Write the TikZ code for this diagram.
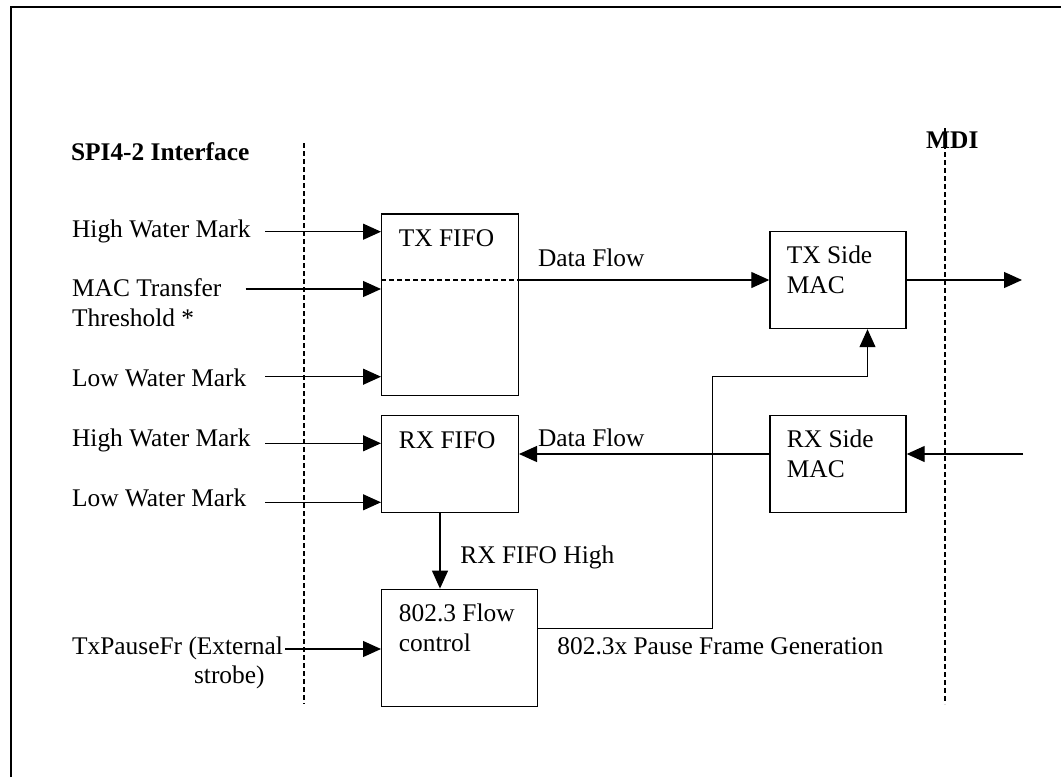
\documentclass[tikz,border=0pt]{standalone}
\usepackage{fontspec}
\setmainfont{Liberation Serif}
\usetikzlibrary{arrows.meta}

\begin{document}
\begin{tikzpicture}[
        x=0.5pt, y=-0.5pt,
        every node/.style={font=\fontsize{12.7}{15}\selectfont},
        box/.style={draw, line width=0.7pt, inner sep=0pt},
        txt/.style={anchor=base west, inner sep=0pt, align=left},
        hdr/.style={txt, font=\bfseries\fontsize{12.7}{15}\selectfont},
        flow/.style={line width=0.6pt, -{Triangle[length=9pt, width=8pt]}},
        divider/.style={line width=0.6pt, dash pattern=on 2.6pt off 1.4pt}
    ]

    \useasboundingbox (0,0) rectangle (1061,777);
    \draw[line width=1.4pt] (11,777) -- (11,7) -- (1061,7);

    % interface borders
    \draw[divider] (304,143) -- (304,704);
    \draw[divider] (945,128) -- (945,704);
    \node[hdr] (spi) at (70.6,160.7) {SPI4-2 Interface};
    \node[hdr] (mdi) at (925.8,148.3) {MDI};

    % blocks
    \node[box, minimum width=68.3pt, minimum height=90.8pt] (txfifo) at (450,304.9) {};
    \node[box, minimum width=68.3pt, minimum height=48.5pt] (rxfifo) at (450,464) {};
    \node[box, minimum width=78pt, minimum height=58.6pt] (fc) at (459.7,647.9) {};
    \node[box, minimum width=68pt, minimum height=48.5pt] (txmac) at (838,280) {};
    \node[box, minimum width=68pt, minimum height=48.5pt] (rxmac) at (838,464) {};

    \node[txt] (txfifo-t) at (398.5,246.7) {TX FIFO};
    \node[txt] (rxfifo-t) at (398.5,448.3) {RX FIFO};
    \node[txt] (fc-t) at (398.5,651.7) {802.3 Flow\\control};
    \node[txt] (txmac-t) at (786.5,293.3) {TX Side\\MAC};
    \node[txt] (rxmac-t) at (786.5,477.3) {RX Side\\MAC};

    % left side inputs
    \node[txt] (hw-tx) at (71.7,237.3) {High Water Mark};
    \node[txt] (thr) at (71.7,326.7) {MAC Transfer\\Threshold *};
    \node[txt] (lw-tx) at (71.7,386) {Low Water Mark};
    \node[txt] (hw-rx) at (71.7,446) {High Water Mark};
    \node[txt] (lw-rx) at (71.7,506) {Low Water Mark};
    \node[txt] (pause-in) at (71.7,654) {TxPauseFr (External};
    \node[txt, anchor=base east] (strobe) at (265,683.3) {strobe)};

    \coordinate (hw1) at (265,231.7);
    \coordinate (mt) at (245.6,289);
    \coordinate (lw1) at (265,376.7);
    \coordinate (hw2) at (265,443.3);
    \coordinate (lw2) at (265,502.3);
    \coordinate (tp) at (285,649);

    \foreach \c in {hw1,mt,lw1}
        \draw[flow] (\c) -- (\c -| txfifo.west);
    \foreach \c in {hw2,lw2}
        \draw[flow] (\c) -- (\c -| rxfifo.west);
    \draw[flow] (tp) -- (tp -| fc.west);

    % data paths
    \draw[divider] (txfifo.west |- txmac.west) -- (txfifo.east |- txmac.west);
    \draw[flow] (txfifo.east |- txmac.west) -- (txmac.west);
    \node[txt] (df-tx) at (537.6,266.7) {Data Flow};
    \coordinate (txout) at (1022,280);
    \draw[flow] (txmac.east) -- (txout);

    \coordinate (rxin) at (1023,454);
    \draw[flow] (rxin) -- (rxin -| rxmac.east);
    \draw[flow] (rxin -| rxmac.west) -- (rxin -| rxfifo.east);
    \node[txt] (df-rx) at (537.6,446) {Data Flow};

    \coordinate (dn) at (440,0);
    \draw[flow] (dn |- rxfifo.south) -- (dn |- fc.north);
    \node[txt] (rxhigh) at (460,563.3) {RX FIFO High};

    \coordinate (pf) at (712.3,628.3);
    \coordinate (up) at (867.5,376.7);
    \draw[flow] (fc.east |- pf) -- (pf) |- (up) -- (up |- txmac.south);
    \node[txt] (pfg) at (557,654) {802.3x Pause Frame Generation};

\end{tikzpicture}
\end{document}
